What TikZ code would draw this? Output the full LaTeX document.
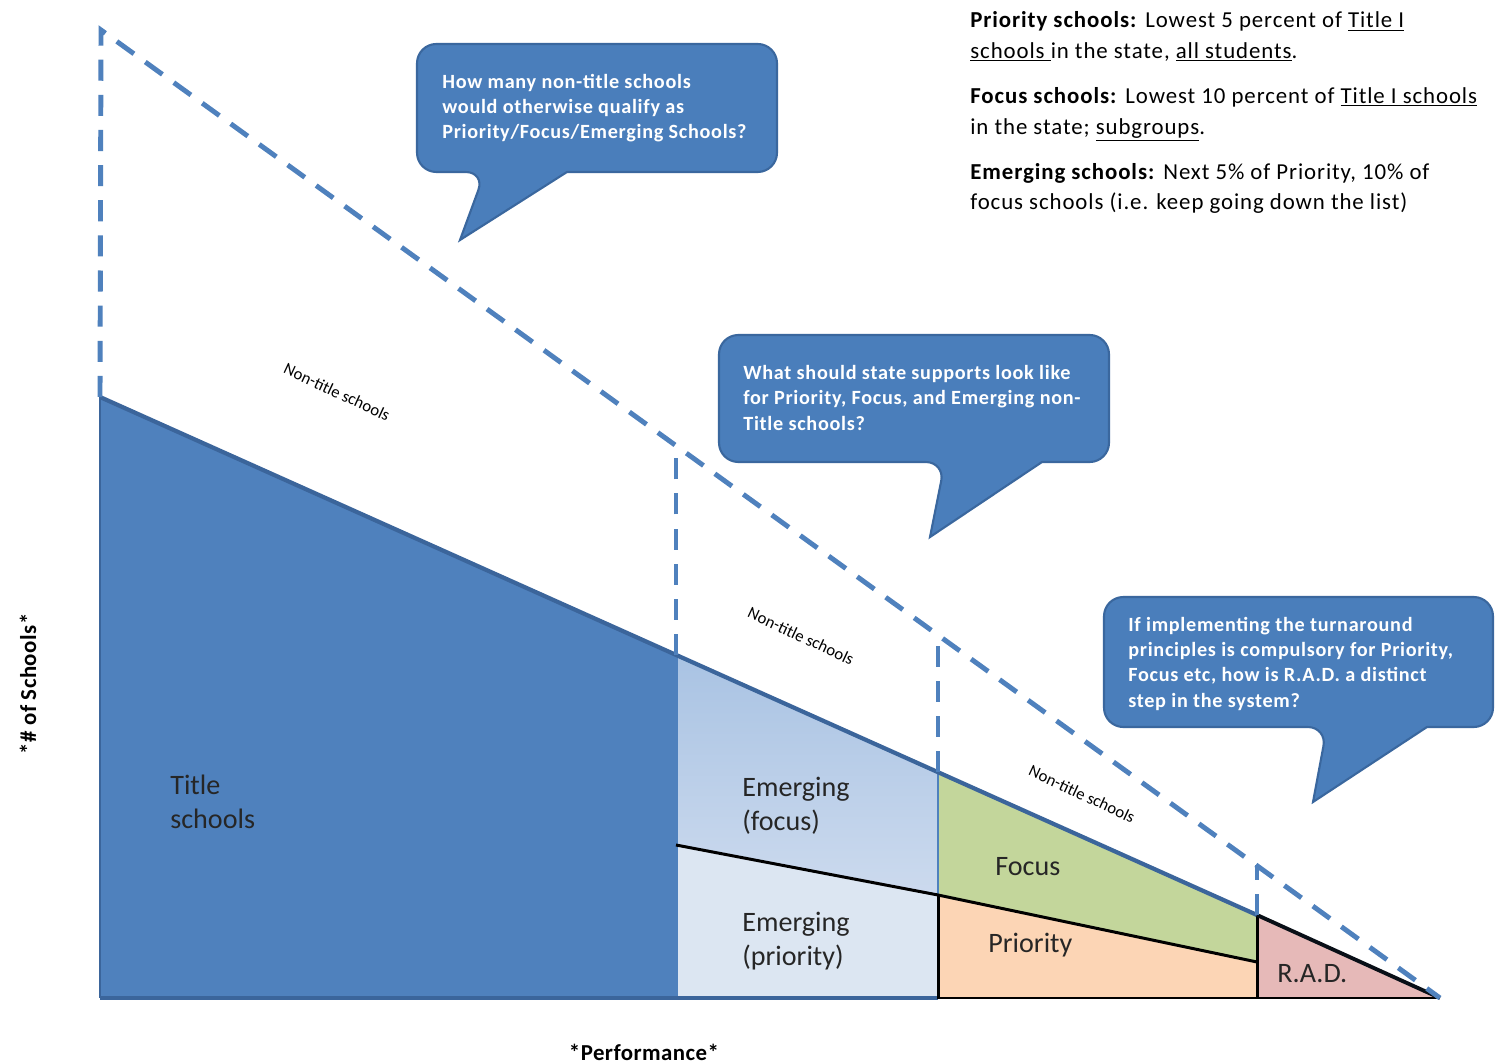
\documentclass[tikz,border=0pt]{standalone}
\usepackage{fontspec}
\setmainfont{Carlito}
\newfontfamily\defFont[LetterSpace=4.0]{Carlito}
\newfontfamily\bubbleFont[LetterSpace=3.5]{Carlito}
\newfontfamily\axisFont[LetterSpace=2.0]{Carlito}
\usepackage{tikz}
\usetikzlibrary{positioning}

\definecolor{titleBlue}{HTML}{4F81BD}
\definecolor{edgeBlue}{HTML}{3B659B}
\definecolor{emFocusTop}{HTML}{A9C3E3}
\definecolor{emFocusBot}{HTML}{CCDAEE}
\definecolor{emPriority}{HTML}{DCE6F2}
\definecolor{focusGreen}{HTML}{C3D69B}
\definecolor{priorityPeach}{HTML}{FCD5B5}
\definecolor{radPink}{HTML}{E6B9B8}
\definecolor{bubbleBlue}{HTML}{4A7EBB}
\definecolor{bubbleEdge}{HTML}{3A679E}
\definecolor{labelGrey}{HTML}{262626}

\tikzset{
  outline/.style = {draw = titleBlue, line width = 2.8pt, dash pattern = on 12pt off 8pt},
  bubble/.style = {fill = bubbleBlue, draw = bubbleEdge, line width = 1.2pt},
  bubbleText/.style = {text = white, font = \bubbleFont\fontsize{11.5}{14.4}\selectfont\bfseries, align = left, anchor = base west, inner sep = 0pt},
  areaLabel/.style = {text = labelGrey, font = \fontsize{16}{19}\selectfont, align = left, anchor = base west, inner sep = 0pt},
  nonTitle/.style = {font = \fontsize{9.5}{10}\selectfont, rotate = -25, inner sep = 0pt},
  axisLabel/.style = {font = \axisFont\fontsize{13}{15}\selectfont\bfseries}
}

\begin{document}
\begin{tikzpicture}[x = 0.02cm, y = -0.02cm]
    \useasboundingbox[fill = white] (0,0) rectangle (1495,1064);

    % points on the solid and dashed lines
    \coordinate (A) at (100,397);
    \coordinate (B) at (676,655);
    \coordinate (C) at (938,772);
    \coordinate (D) at (1257,915);
    \coordinate (E) at (1440,998);
    \coordinate (P1) at (676,845);
    \coordinate (P2) at (938,895);
    \coordinate (P3) at (1257,962);
    \coordinate (T) at (101,30);

    % filled areas
    \fill[titleBlue] (100,998) -- (A) -- (B) -- (676,998) -- cycle;
    \shade[top color = emFocusTop, bottom color = emFocusBot] (B) -- (C) -- (P2) -- (P1) -- cycle;
    \fill[emPriority] (P1) -- (P2) -- (938,998) -- (676,998) -- cycle;
    \fill[focusGreen] (C) -- (D) -- (P3) -- (P2) -- cycle;
    \fill[priorityPeach] (P2) -- (P3) -- (1257,998) -- (938,998) -- cycle;
    \fill[radPink] (D) -- (E) -- (1257,998) -- cycle;

    % borders
    \draw[edgeBlue, line width = 1.6pt] (100,998) -- (A);
    \draw[titleBlue, line width = 2pt] (B) -- (676,998);
    \draw[titleBlue, line width = 1.4pt] (C) -- (P2);
    \draw[edgeBlue, line width = 1.8pt] (100,998) -- (938,998);
    \draw[black, line width = 1.7pt] (P1) -- (P2) -- (P3);
    \draw[black, line width = 1.7pt] (P2) -- (938,998) -- (E);
    \draw[black, line width = 1.7pt] (D) -- (1257,998);
    \draw[edgeBlue, line width = 2.4pt] (A) -- (D);
    \draw[black!85!edgeBlue, line width = 2.2pt] (D) -- (E);

    % dashed outline
    \draw[outline] (A) -- (T) -- (E);
    \draw[outline] (B) -- (676,445);
    \draw[outline] (C) -- (938,634);
    \draw[outline] (D) -- (1257,865);

    % area labels (anchored at the last line)
    \node[areaLabel](titleLabel) at (170,828) {Title\\schools};
    \node[areaLabel](emFocusLabel) at (742,830) {Emerging\\(focus)};
    \node[areaLabel](emPriorityLabel) at (742,965) {Emerging\\(priority)};
    \node[areaLabel](focusLabel) at (995,875) {Focus};
    \node[areaLabel](priorityLabel) at (988,952) {Priority};
    \node[areaLabel](radLabel) at (1277,982) {R.A.D.};

    \node[nonTitle](nonTitleA) at (337,392) {Non-title schools};
    \node[nonTitle](nonTitleB) at (801,636) {Non-title schools};
    \node[nonTitle](nonTitleC) at (1082,794) {Non-title schools};

    % callouts
    \draw[bubble] (460,240) -- (567,172) [rounded corners = 11] -- (777,172) -- (777,44) -- (417,44) -- (417,172) -- (485,172) [sharp corners] -- cycle;
    \node[bubbleText](questionA) at (442,139) {How many non-title schools\\would otherwise qualify as\\Priority/Focus/Emerging Schools?};

    \draw[bubble] (930,537) -- (1042,462) [rounded corners = 11] -- (1109,462) -- (1109,335) -- (719,335) -- (719,462) -- (945,462) [sharp corners] -- cycle;
    \node[bubbleText](questionB) at (743,430) {What should state supports look like\\for Priority, Focus, and Emerging non-\\Title schools?};

    \draw[bubble] (1313,802) -- (1427,727) [rounded corners = 11] -- (1493,727) -- (1493,597) -- (1104,597) -- (1104,727) -- (1327,727) [sharp corners] -- cycle;
    \node[bubbleText](questionC) at (1128,707) {If implementing the turnaround\\principles is compulsory for Priority,\\Focus etc, how is R.A.D. a distinct\\step in the system?};

    % definitions
    \node[align = left, anchor = base west, inner sep = 0pt, font = \defFont\fontsize{13}{17.6}\selectfont](definitions) at (970,210)
      {\textbf{Priority schools:} Lowest 5 percent of \underline{Title I}\\
       \underline{schools }in the state, \underline{all students}.\\[8pt]
       \textbf{Focus schools:} Lowest 10 percent of \underline{Title I schools}\\
       in the state; \underline{subgroups}.\\[8pt]
       \textbf{Emerging schools:} Next 5\% of Priority, 10\% of\\
       focus schools (i.e. keep going down the list)};

    % axes
    \node[axisLabel](xLabel) at (644,1052) {*Performance*};
    \node[axisLabel, rotate = 90](yLabel) at (28,684) {*\# of Schools*};
\end{tikzpicture}
\end{document}
